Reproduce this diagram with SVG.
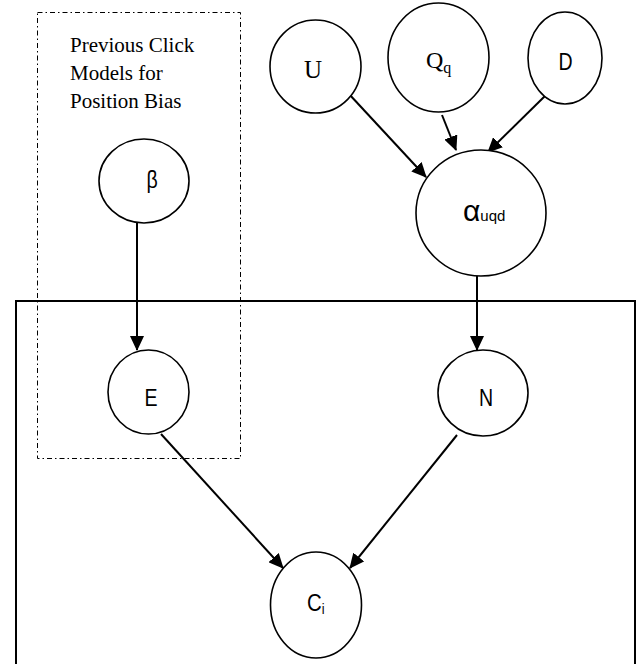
<svg xmlns="http://www.w3.org/2000/svg" width="640" height="664" viewBox="0 0 640 664">
<style>
.node{fill:#fff;stroke:#000;stroke-width:1.6}
.edge{stroke:#000;stroke-width:2;fill:none;marker-end:url(#arr)}
.serif{font-family:"Liberation Serif","Times New Roman",serif;fill:#000}
.sans{font-family:"Liberation Sans",Arial,sans-serif;fill:#000}
.lbl{font-family:"Liberation Sans",Arial,sans-serif;fill:#000;font-size:23px;text-anchor:middle}
</style>
<defs>
<marker id="arr" markerUnits="userSpaceOnUse" markerWidth="15" markerHeight="14" refX="14" refY="7" orient="auto">
<path d="M0,0 L15,7 L0,14 Z" fill="#000"/>
</marker>
</defs>
<rect width="640" height="664" fill="#fff"/>
<g id="plate"><rect x="16" y="301" width="619" height="380" fill="none" stroke="#000" stroke-width="2"/></g>
<g id="prev-box">
<rect x="37.5" y="12.5" width="203" height="446" fill="none" stroke="#000" stroke-width="1" stroke-dasharray="5 3 1.5 3"/>
<text class="serif" font-size="21" x="70" y="52">Previous Click</text>
<text class="serif" font-size="21" x="70" y="80">Models for</text>
<text class="serif" font-size="21" x="70" y="108">Position Bias</text>
</g>
<g id="connectors">
<line class="edge" x1="349" y1="94" x2="426" y2="177"/>
<line class="edge" x1="442" y1="115" x2="456" y2="150"/>
<line class="edge" x1="546" y1="95" x2="488" y2="152"/>
<line class="edge" x1="477" y1="276" x2="477" y2="350"/>
<line class="edge" x1="137" y1="223" x2="137" y2="350"/>
<line class="edge" x1="161" y1="434" x2="283" y2="568"/>
<line class="edge" x1="457" y1="435" x2="350" y2="568"/>
</g>
<g id="U"><ellipse class="node" cx="315.5" cy="66.5" rx="45.5" ry="46.5"/><text class="serif" font-size="25" x="313" y="78" text-anchor="middle">U</text></g>
<g id="Qq"><ellipse class="node" cx="438.5" cy="57.5" rx="50.5" ry="54.5"/><text class="serif" font-size="24" x="426" y="68">Q<tspan font-size="16" dy="5">q</tspan></text></g>
<g id="D"><ellipse class="node" cx="565" cy="58" rx="37" ry="46"/><text class="lbl" transform="translate(565.5,70) scale(0.85,1)">D</text></g>
<g id="alpha"><ellipse class="node" cx="481" cy="213" rx="65" ry="63"/><text class="sans" font-size="30" x="463" y="221">α<tspan font-size="15">uqd</tspan></text></g>
<g id="beta"><ellipse class="node" cx="144" cy="181" rx="45" ry="42"/><text class="lbl" transform="translate(152,188) scale(0.85,1)">β</text></g>
<g id="E"><ellipse class="node" cx="148.5" cy="392" rx="40.5" ry="42"/><text class="lbl" transform="translate(151,406) scale(0.85,1)">E</text></g>
<g id="N"><ellipse class="node" cx="483" cy="393" rx="45" ry="43"/><text class="lbl" transform="translate(486,406) scale(0.85,1)">N</text></g>
<g id="Ci"><ellipse class="node" cx="316" cy="605" rx="45.5" ry="53"/><text class="sans" font-size="24" transform="translate(307,611) scale(0.85,1)">C<tspan font-size="15" dy="3">i</tspan></text></g>
</svg>
